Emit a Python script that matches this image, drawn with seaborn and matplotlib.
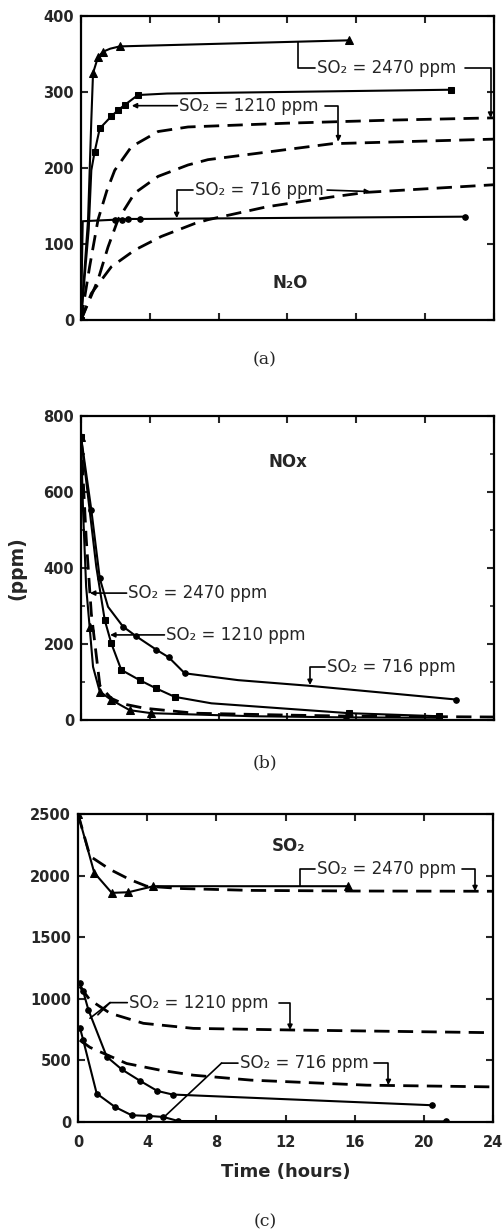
import numpy as np
import pandas as pd
import matplotlib
matplotlib.use('Agg')
import matplotlib.pyplot as plt
import seaborn as sns

# ---- (a) N2O, measured (solid) ----
n2o_t_2470 = [0, 0.41, 0.6, 0.7, 0.99, 1.28, 1.7, 2.25, 15.6]
n2o_v_2470 = [0, 132, 263, 325, 346, 353, 357, 360, 368]
n2o_t_1210 = [0, 0.45, 0.6, 0.79, 1.09, 1.76, 2.15, 2.54, 3.31, 5, 21.5]
n2o_v_1210 = [0, 120, 197, 221, 252, 268, 276, 283, 296, 298, 303]
n2o_t_716 = [0, 0.1, 1.97, 2.4, 2.74, 3.42, 22.3]
n2o_v_716 = [0, 130, 132, 132, 133, 133, 136]
# ---- (a) N2O, model (dashed) ----
n2o_mt_2470 = [0, 0.5, 0.99, 1.5, 1.96, 2.93, 4.48, 6.22, 12, 18, 24]
n2o_mv_2470 = [0, 70, 132, 170, 197, 228, 248, 254, 259, 263, 266]
n2o_mt_1210 = [0, 0.99, 1.57, 2.15, 3.12, 4.48, 6.22, 7.38, 14.6, 24]
n2o_mv_1210 = [0, 53, 96, 132, 167, 189, 204, 211, 232, 238]
n2o_mt_716 = [0, 0.6, 1.76, 3.12, 4.67, 6.61, 7.38, 10.8, 14.6, 16.6, 24]
n2o_mv_716 = [0, 35, 70, 92, 110, 127, 132, 149, 162, 168, 178]

# ---- (b) NOx ----
nox_t_716 = [0, 0.6, 1.09, 1.57, 2.44, 3.22, 4.38, 5.1, 6.03, 9.13, 13.3, 21.8]
nox_v_716 = [746, 553, 373, 298, 246, 220, 185, 165, 123, 105, 90, 54]
nox_t_1210 = [0, 0.89, 1.38, 1.76, 2.34, 3.41, 4.38, 5.45, 7.58, 15.6, 20.8]
nox_v_1210 = [746, 403, 263, 202, 132, 105, 83, 61, 44, 18, 10]
nox_t_2470 = [0, 0.12, 0.3, 0.5, 0.7, 1.09, 1.76, 2.83, 4.09, 10, 15.4, 20.8]
nox_v_2470 = [746, 550, 350, 246, 140, 75, 53, 26, 18, 10, 7, 6]
nox_mt = [0, 0.3, 0.6, 1.1, 1.76, 2.5, 3.7, 6.6, 12, 16, 24]
nox_mv = [746, 480, 280, 90, 57, 42, 31, 18, 13, 10, 8]

# ---- (c) SO2 ----
so2_t_2470 = [0, 0.94, 1.95, 2.91, 4.36, 15.6]
so2_v_2470 = [2500, 2023, 1860, 1865, 1914, 1914]
so2_t_1210 = [0.1, 0.3, 0.6, 1.66, 2.53, 3.59, 4.59, 5.47, 20.5]
so2_v_1210 = [1127, 1060, 910, 530, 427, 334, 252, 223, 136]
so2_t_716 = [0.12, 0.3, 1.08, 2.14, 3.1, 4.12, 4.93, 5.8, 21.3]
so2_v_716 = [760, 665, 231, 122, 55, 49, 41, 8, 5]
so2_mt_2470 = [0, 0.69, 1.85, 3.0, 3.97, 6, 10, 16, 24]
so2_mv_2470 = [2500, 2158, 2050, 1968, 1914, 1895, 1880, 1875, 1873]
so2_mt_1210 = [0.1, 0.69, 1.85, 3.78, 6.67, 12.3, 24]
so2_mv_1210 = [1100, 991, 883, 801, 760, 747, 725]
so2_mt_716 = [0.1, 0.69, 2.81, 4.74, 6.67, 10, 16.7, 24]
so2_mv_716 = [665, 606, 475, 421, 380, 340, 299, 285]

sns.set_style('ticks')
plt.rcParams['font.family'] = ['DejaVu Sans']
plt.rcParams['font.weight'] = 'bold'
plt.rcParams['axes.labelweight'] = 'bold'

DASH = (0, (5.5, 3))


def draw_run(ax, t, v, marker=None, ms=4, dashed=False, every=None):
    df = pd.DataFrame({'t': t, 'v': v})
    if dashed:
        sns.lineplot(data=df, x='t', y='v', ax=ax, color='black', sort=False,
                     estimator=None, lw=2.0, linestyle=DASH, legend=False)
    else:
        sns.lineplot(data=df, x='t', y='v', ax=ax, color='black', sort=False,
                     estimator=None, lw=1.5, marker=marker, markersize=ms,
                     markevery=every, markeredgecolor='black',
                     markerfacecolor='black', legend=False)


def leader(ax, start, end, bend=False, head=True):
    conn = 'angle,angleA=0,angleB=90,rad=0' if bend else 'arc3'
    ax.annotate('', xy=end, xytext=start,
                arrowprops=dict(arrowstyle='-|>' if head else '-', connectionstyle=conn,
                                color='black', lw=1.2, shrinkA=0, shrinkB=0,
                                mutation_scale=7))


def label(ax, x, y, s):
    ax.text(x, y, s, ha='left', va='center', fontsize=12, fontweight='normal')


def style_axis(ax, ymax, ystep, xlabels=False, minor=None):
    ax.set_xlim(0, 24)
    ax.set_ylim(0, ymax)
    ax.set_xticks(range(0, 25, 4))
    ax.set_yticks(np.arange(0, ymax + 1, ystep))
    if minor:
        ax.set_yticks(np.arange(0, ymax + 1, minor), minor=True)
        ax.tick_params(which='minor', direction='in', left=True, right=True, length=3, width=1.2)
    ax.tick_params(direction='in', top=True, right=True, length=5, width=1.5,
                   labelsize=10.5, pad=5)
    ax.tick_params(axis='x', labelbottom=xlabels, pad=9)
    for sp in ax.spines.values():
        sp.set_linewidth(1.6)
        sp.set_color('black')
    ax.set_xlabel('')
    ax.set_ylabel('')


fig = plt.figure(figsize=(5.04, 12.3), dpi=100)
ax_a = fig.add_axes([0.1607, 0.7398, 0.8194, 0.2472])
ax_b = fig.add_axes([0.1607, 0.4146, 0.8194, 0.2472])
ax_c = fig.add_axes([0.1548, 0.0878, 0.8234, 0.2504])

# (a) N2O
draw_run(ax_a, n2o_mt_2470, n2o_mv_2470, dashed=True)
draw_run(ax_a, n2o_mt_1210, n2o_mv_1210, dashed=True)
draw_run(ax_a, n2o_mt_716, n2o_mv_716, dashed=True)
draw_run(ax_a, n2o_t_2470, n2o_v_2470, marker='^', ms=6, every=[0, 3, 4, 5, 7, 8])
draw_run(ax_a, n2o_t_1210, n2o_v_1210, marker='s', ms=4, every=[0, 3, 4, 5, 6, 7, 8, 10])
draw_run(ax_a, n2o_t_716, n2o_v_716, marker='o', ms=4, every=[0, 2, 3, 4, 5, 6])
style_axis(ax_a, 400, 100)
label(ax_a, 13.7, 332, 'SO₂ = 2470 ppm')
leader(ax_a, (13.6, 332), (12.6, 366), bend=True, head=False)
leader(ax_a, (22.3, 332), (23.8, 266), bend=True)
label(ax_a, 5.7, 282, 'SO₂ = 1210 ppm')
leader(ax_a, (5.6, 282), (2.95, 282))
leader(ax_a, (14.2, 282), (14.96, 235), bend=True)
label(ax_a, 6.6, 171, 'SO₂ = 716 ppm')
leader(ax_a, (6.5, 171), (5.56, 134), bend=True)
leader(ax_a, (14.3, 171), (16.8, 169))
ax_a.text(12.15, 49, 'N₂O', ha='center', va='center', fontsize=12)

# (b) NOx
draw_run(ax_b, nox_mt, nox_mv, dashed=True)
draw_run(ax_b, nox_t_716, nox_v_716, marker='o', ms=4, every=[0, 1, 2, 4, 5, 6, 7, 8, 11])
draw_run(ax_b, nox_t_1210, nox_v_1210, marker='s', ms=4, every=[0, 2, 3, 4, 5, 6, 7, 9, 10])
draw_run(ax_b, nox_t_2470, nox_v_2470, marker='^', ms=6, every=[0, 3, 5, 6, 7, 8, 10, 11])
style_axis(ax_b, 800, 200, minor=100)
label(ax_b, 2.75, 334, 'SO₂ = 2470 ppm')
leader(ax_b, (2.65, 334), (0.52, 334))
label(ax_b, 4.95, 224, 'SO₂ = 1210 ppm')
leader(ax_b, (4.85, 224), (1.69, 224))
label(ax_b, 14.3, 139, 'SO₂ = 716 ppm')
leader(ax_b, (14.2, 139), (13.31, 92), bend=True)
ax_b.text(12.0, 679, 'NOx', ha='center', va='center', fontsize=12)
ax_b.set_ylabel('(ppm)', fontsize=13.5, fontweight='bold', labelpad=12)

# (c) SO2
draw_run(ax_c, so2_mt_2470, so2_mv_2470, dashed=True)
draw_run(ax_c, so2_mt_1210, so2_mv_1210, dashed=True)
draw_run(ax_c, so2_mt_716, so2_mv_716, dashed=True)
draw_run(ax_c, so2_t_2470, so2_v_2470, marker='^', ms=6)
draw_run(ax_c, so2_t_1210, so2_v_1210, marker='o', ms=4)
draw_run(ax_c, so2_t_716, so2_v_716, marker='o', ms=4)
style_axis(ax_c, 2500, 500, xlabels=True)
label(ax_c, 13.8, 2050, 'SO₂ = 2470 ppm')
leader(ax_c, (13.7, 2050), (12.84, 1915), bend=True, head=False)
leader(ax_c, (22.2, 2050), (22.96, 1873), bend=True)
label(ax_c, 2.95, 969, 'SO₂ = 1210 ppm')
leader(ax_c, (2.85, 969), (1.85, 969), head=False)
leader(ax_c, (1.85, 969), (0.69, 842), head=False)
leader(ax_c, (1.85, 969), (1.15, 870), head=False)
leader(ax_c, (11.65, 969), (12.26, 747), bend=True)
label(ax_c, 9.35, 478, 'SO₂ = 716 ppm')
leader(ax_c, (9.25, 478), (8.3, 478), head=False)
leader(ax_c, (8.3, 478), (4.9, 30), head=False)
leader(ax_c, (17.1, 478), (17.95, 299), bend=True)
ax_c.text(12.15, 2238, 'SO₂', ha='center', va='center', fontsize=12)
ax_c.set_xlabel('Time (hours)', fontsize=13, fontweight='bold', labelpad=10)

for y, cap in [(360, '(a)'), (763, '(b)'), (1222, '(c)')]:
    fig.text(265 / 504, 1 - y / 1230, cap, ha='center', va='center',
             family='DejaVu Serif', fontweight='normal', fontsize=12.5)

fig.savefig('out.png', dpi=100)
